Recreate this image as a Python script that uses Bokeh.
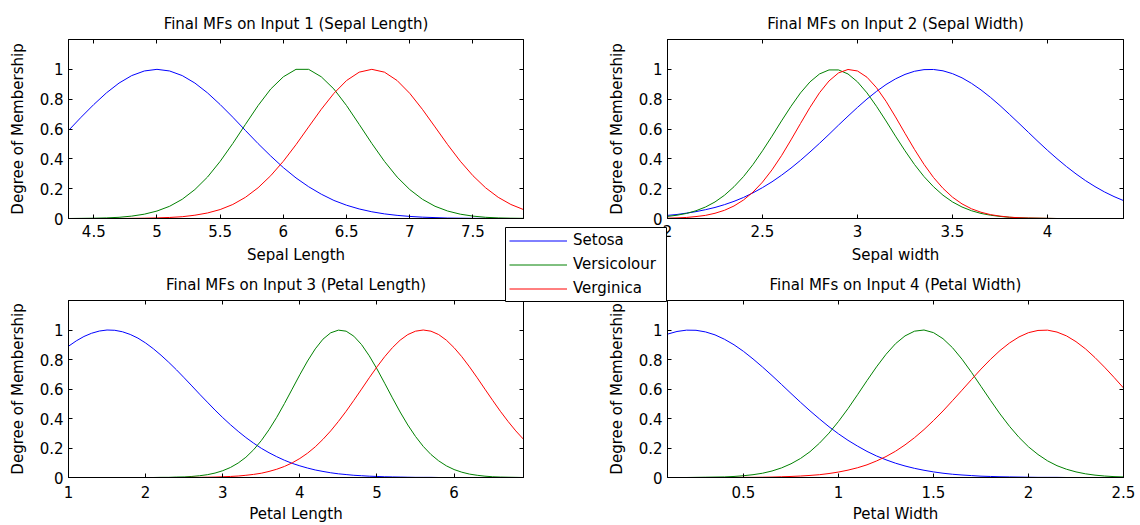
from bokeh.plotting import figure
from bokeh.models import (ColumnDataSource, Range1d, FixedTicker, NumeralTickFormatter,
                          LinearAxis, Legend, LegendItem, GridBox, CustomLabelingPolicy)
from bokeh.embed import file_html
from bokeh.resources import INLINE

# ---------------- data ----------------
CLASSES = ["Setosa", "Versicolour", "Verginica"]
Y_TICKS = [0, 0.2, 0.4, 0.6, 0.8, 1]

# Input 1: Sepal Length
SL_X = [4.3, 4.4, 4.5, 4.6, 4.7, 4.8, 4.9, 5.0, 5.1, 5.2, 5.3, 5.4, 5.5, 5.6, 5.7, 5.8, 5.9,
        6.0, 6.1, 6.2, 6.3, 6.4, 6.5, 6.6, 6.7, 6.8, 6.9, 7.0, 7.1, 7.2, 7.3, 7.4, 7.5, 7.6,
        7.7, 7.8, 7.9]
SL_SETOSA = [0.590, 0.679, 0.764, 0.842, 0.908, 0.958, 0.989, 1.000, 0.989, 0.958, 0.908,
             0.842, 0.764, 0.679, 0.590, 0.502, 0.419, 0.341, 0.272, 0.213, 0.163, 0.121,
             0.089, 0.064, 0.045, 0.031, 0.021, 0.014, 0.009, 0.006, 0.003, 0.002, 0.001,
             0.001, 0.000, 0.000, 0.000]
SL_VERSI = [0.000, 0.001, 0.002, 0.004, 0.008, 0.016, 0.029, 0.050, 0.082, 0.129, 0.194,
            0.278, 0.383, 0.503, 0.631, 0.757, 0.868, 0.950, 1.000, 1.000, 0.950, 0.868,
            0.757, 0.631, 0.503, 0.383, 0.278, 0.194, 0.129, 0.082, 0.050, 0.029, 0.016,
            0.008, 0.004, 0.002, 0.001]
SL_VIRGI = [0.000, 0.000, 0.000, 0.000, 0.000, 0.001, 0.002, 0.004, 0.007, 0.012, 0.022,
            0.037, 0.060, 0.094, 0.142, 0.206, 0.287, 0.384, 0.495, 0.614, 0.732, 0.839,
            0.925, 0.981, 1.000, 0.981, 0.925, 0.839, 0.732, 0.614, 0.495, 0.384, 0.287,
            0.206, 0.142, 0.094, 0.060]
SL_TICKS = [4.5, 5, 5.5, 6, 6.5, 7, 7.5]

# Input 2: Sepal Width
SW_X = [2.0, 2.05, 2.1, 2.15, 2.2, 2.25, 2.3, 2.35, 2.4, 2.45, 2.5, 2.55, 2.6, 2.65, 2.7,
        2.75, 2.8, 2.85, 2.9, 2.95, 3.0, 3.05, 3.1, 3.15, 3.2, 3.25, 3.3, 3.35, 3.4, 3.45,
        3.5, 3.55, 3.6, 3.65, 3.7, 3.75, 3.8, 3.85, 3.9, 3.95, 4.0, 4.05, 4.1, 4.15, 4.2,
        4.25, 4.3, 4.35, 4.4]
SW_SETOSA = [0.021, 0.027, 0.036, 0.046, 0.059, 0.074, 0.093, 0.115, 0.141, 0.172,
             0.207, 0.246, 0.290, 0.338, 0.390, 0.446, 0.504, 0.564, 0.626, 0.686,
             0.745, 0.801, 0.852, 0.898, 0.936, 0.966, 0.987, 0.998, 0.999, 0.990,
             0.971, 0.943, 0.906, 0.862, 0.812, 0.757, 0.698, 0.638, 0.577, 0.516,
             0.457, 0.401, 0.348, 0.299, 0.254, 0.214, 0.178, 0.147, 0.120]
SW_VERSI = [0.014, 0.022, 0.034, 0.052, 0.077, 0.111, 0.156, 0.213, 0.281, 0.362,
            0.454, 0.552, 0.654, 0.752, 0.842, 0.916, 0.969, 0.996, 0.996, 0.969,
            0.916, 0.842, 0.752, 0.654, 0.552, 0.454, 0.362, 0.281, 0.213, 0.156,
            0.111, 0.077, 0.052, 0.034, 0.022, 0.014, 0.008, 0.005, 0.003, 0.002,
            0.001, 0.000, 0.000, 0.000, 0.000, 0.000, 0.000, 0.000, 0.000]
SW_VIRGI = [0.002, 0.004, 0.007, 0.013, 0.021, 0.035, 0.055, 0.084, 0.124, 0.177,
            0.244, 0.326, 0.421, 0.527, 0.637, 0.745, 0.843, 0.922, 0.976, 0.999,
            0.989, 0.947, 0.877, 0.786, 0.681, 0.571, 0.463, 0.363, 0.275, 0.202,
            0.143, 0.098, 0.065, 0.042, 0.026, 0.016, 0.009, 0.005, 0.003, 0.002,
            0.001, 0.000, 0.000, 0.000, 0.000, 0.000, 0.000, 0.000, 0.000]
SW_TICKS = [2, 2.5, 3, 3.5, 4]

# Input 3: Petal Length
PL_X = [1.0, 1.1, 1.2, 1.3, 1.4, 1.5, 1.6, 1.7, 1.8, 1.9, 2.0, 2.1, 2.2, 2.3, 2.4, 2.5, 2.6,
        2.7, 2.8, 2.9, 3.0, 3.1, 3.2, 3.3, 3.4, 3.5, 3.6, 3.7, 3.8, 3.9, 4.0, 4.1, 4.2, 4.3,
        4.4, 4.5, 4.6, 4.7, 4.8, 4.9, 5.0, 5.1, 5.2, 5.3, 5.4, 5.5, 5.6, 5.7, 5.8, 5.9, 6.0,
        6.1, 6.2, 6.3, 6.4, 6.5, 6.6, 6.7, 6.8, 6.9]
PL_SETOSA = [0.890, 0.926, 0.956, 0.978, 0.993, 1.000, 0.998, 0.988, 0.970, 0.945,
             0.912, 0.873, 0.829, 0.781, 0.730, 0.676, 0.621, 0.565, 0.511, 0.457,
             0.406, 0.358, 0.313, 0.271, 0.233, 0.198, 0.168, 0.141, 0.117, 0.096,
             0.079, 0.064, 0.051, 0.041, 0.032, 0.025, 0.020, 0.015, 0.012, 0.009,
             0.007, 0.005, 0.004, 0.003, 0.002, 0.001, 0.001, 0.001, 0.000, 0.000,
             0.000, 0.000, 0.000, 0.000, 0.000, 0.000, 0.000, 0.000, 0.000, 0.000]
PL_VERSI = [0.000, 0.000, 0.000, 0.000, 0.000, 0.000, 0.000, 0.000, 0.000, 0.000,
            0.000, 0.000, 0.001, 0.001, 0.003, 0.004, 0.007, 0.012, 0.019, 0.030,
            0.046, 0.068, 0.098, 0.137, 0.188, 0.250, 0.324, 0.408, 0.501, 0.599,
            0.697, 0.790, 0.872, 0.938, 0.981, 0.999, 0.992, 0.958, 0.901, 0.825,
            0.736, 0.639, 0.540, 0.444, 0.356, 0.278, 0.211, 0.156, 0.113, 0.079,
            0.054, 0.036, 0.023, 0.015, 0.009, 0.005, 0.003, 0.002, 0.001, 0.000]
PL_VIRGI = [0.000, 0.000, 0.000, 0.000, 0.000, 0.000, 0.000, 0.000, 0.000, 0.000,
            0.000, 0.000, 0.000, 0.000, 0.000, 0.000, 0.001, 0.001, 0.002, 0.003,
            0.005, 0.007, 0.010, 0.015, 0.021, 0.029, 0.041, 0.056, 0.075, 0.099,
            0.129, 0.165, 0.208, 0.259, 0.316, 0.380, 0.449, 0.523, 0.599, 0.676,
            0.750, 0.819, 0.880, 0.931, 0.969, 0.992, 1.000, 0.992, 0.969, 0.931,
            0.880, 0.819, 0.750, 0.676, 0.599, 0.523, 0.449, 0.380, 0.316, 0.259]
PL_TICKS = [1, 2, 3, 4, 5, 6]

# Input 4: Petal Width
PW_X = [0.1, 0.15, 0.2, 0.25, 0.3, 0.35, 0.4, 0.45, 0.5, 0.55, 0.6, 0.65, 0.7, 0.75, 0.8,
        0.85, 0.9, 0.95, 1.0, 1.05, 1.1, 1.15, 1.2, 1.25, 1.3, 1.35, 1.4, 1.45, 1.5, 1.55,
        1.6, 1.65, 1.7, 1.75, 1.8, 1.85, 1.9, 1.95, 2.0, 2.05, 2.1, 2.15, 2.2, 2.25, 2.3,
        2.35, 2.4, 2.45, 2.5]
PW_SETOSA = [0.972, 0.990, 0.999, 0.998, 0.987, 0.967, 0.937, 0.900, 0.855, 0.804,
             0.749, 0.691, 0.631, 0.570, 0.510, 0.452, 0.397, 0.344, 0.296, 0.252,
             0.213, 0.177, 0.146, 0.120, 0.097, 0.078, 0.062, 0.049, 0.038, 0.029,
             0.022, 0.017, 0.013, 0.009, 0.007, 0.005, 0.004, 0.003, 0.002, 0.001,
             0.001, 0.001, 0.000, 0.000, 0.000, 0.000, 0.000, 0.000, 0.000]
PW_VERSI = [0.000, 0.000, 0.000, 0.001, 0.002, 0.003, 0.004, 0.007, 0.012, 0.019,
            0.029, 0.044, 0.065, 0.093, 0.129, 0.175, 0.233, 0.301, 0.380, 0.467,
            0.561, 0.657, 0.750, 0.835, 0.907, 0.960, 0.992, 1.000, 0.982, 0.941,
            0.880, 0.802, 0.713, 0.618, 0.523, 0.431, 0.347, 0.272, 0.208, 0.156,
            0.113, 0.080, 0.056, 0.038, 0.025, 0.016, 0.010, 0.006, 0.004]
PW_VIRGI = [0.000, 0.000, 0.000, 0.000, 0.000, 0.000, 0.000, 0.000, 0.001, 0.001,
            0.002, 0.003, 0.005, 0.007, 0.010, 0.014, 0.019, 0.027, 0.037, 0.050,
            0.066, 0.086, 0.112, 0.142, 0.178, 0.221, 0.270, 0.325, 0.386, 0.451,
            0.521, 0.592, 0.664, 0.735, 0.801, 0.861, 0.912, 0.953, 0.982, 0.997,
            0.999, 0.986, 0.960, 0.921, 0.872, 0.813, 0.748, 0.679, 0.607]
PW_TICKS = [0.5, 1, 1.5, 2, 2.5]

PANELS = [
    ("Final MFs on Input 1 (Sepal Length)", "Sepal Length", SL_X, [SL_SETOSA, SL_VERSI, SL_VIRGI], SL_TICKS),
    ("Final MFs on Input 2 (Sepal Width)", "Sepal width", SW_X, [SW_SETOSA, SW_VERSI, SW_VIRGI], SW_TICKS),
    ("Final MFs on Input 3 (Petal Length)", "Petal Length", PL_X, [PL_SETOSA, PL_VERSI, PL_VIRGI], PL_TICKS),
    ("Final MFs on Input 4 (Petal Width)", "Petal Width", PW_X, [PW_SETOSA, PW_VERSI, PW_VIRGI], PW_TICKS),
]
Y_LABEL = "Degree of Membership"

# ---------------- styling ----------------
FONT = "DejaVu Sans"
FS = "15px"
COLORS = ["#0000ff", "#008000", "#ff0000"]
FIELDS = ["setosa", "versi", "virgi"]


def base_axis_style(ax, ticks):
    ax.ticker = FixedTicker(ticks=ticks)
    ax.formatter = NumeralTickFormatter(format="0.[0]")
    ax.major_tick_in = 4
    ax.major_tick_out = 0
    ax.minor_tick_line_color = None
    ax.axis_line_color = "black"
    ax.axis_line_width = 1
    ax.major_tick_line_color = "black"
    ax.major_label_text_font = FONT
    ax.major_label_text_font_size = FS
    ax.major_label_text_color = "black"
    ax.axis_label_text_font = FONT
    ax.axis_label_text_font_size = FS
    ax.axis_label_text_font_style = "normal"
    ax.axis_label_text_color = "black"


def mirror_axis(ticks):
    # tick marks only (inside the box, like the reference's top/right edges)
    ax = LinearAxis()
    base_axis_style(ax, ticks)
    ax.major_label_text_font_size = "0px"
    ax.major_label_standoff = 0
    ax.major_label_policy = CustomLabelingPolicy(
        code="for (const i of indices) { indices.unset(i) }\nreturn indices")
    return ax


def make_panel(spec, width, height, mb, title_standoff, label_standoff, axis_label_standoff):
    title, xlabel, xs, ys, xticks = spec
    data = {"x": xs}
    for f, y in zip(FIELDS, ys):
        data[f] = y
    src = ColumnDataSource(data)
    p = figure(width=width, height=height,
               x_range=Range1d(xs[0], xs[-1]), y_range=Range1d(0, 1.2),
               toolbar_location=None, output_backend="svg",
               min_border_left=mb[0], min_border_right=mb[1],
               min_border_top=mb[2], min_border_bottom=mb[3],
               background_fill_color="white", border_fill_color="white")
    p.xgrid.visible = False
    p.ygrid.visible = False
    p.outline_line_color = "black"
    p.outline_line_width = 1

    p.title.text = title
    p.title.align = "center"
    p.title.text_font = FONT
    p.title.text_font_size = FS
    p.title.text_font_style = "normal"
    p.title.text_color = "black"
    p.title.standoff = title_standoff

    xa = p.xaxis[0]
    base_axis_style(xa, xticks)
    xa.axis_label = xlabel
    xa.major_label_standoff = label_standoff
    xa.axis_label_standoff = axis_label_standoff

    ya = p.yaxis[0]
    base_axis_style(ya, Y_TICKS)
    ya.axis_label = Y_LABEL
    ya.major_label_standoff = 5
    ya.axis_label_standoff = 10

    p.add_layout(mirror_axis(xticks), "above")
    p.add_layout(mirror_axis(Y_TICKS), "right")

    for f, c in zip(FIELDS, COLORS):
        p.line("x", f, source=src, line_color=c, line_width=1)
    return p, src


p1, src1 = make_panel(PANELS[0], 599, 266, (68, 76, 39, 46), 13, 6, 6)
p2, _ = make_panel(PANELS[1], 541, 266, (68, 17, 39, 46), 13, 6, 6)
p3, _ = make_panel(PANELS[2], 599, 259, (68, 76, 32, 46), 14, 8, 4)
p4, _ = make_panel(PANELS[3], 541, 259, (68, 17, 32, 46), 14, 8, 4)

# legend box, overlapping the panels as in the reference
leg = figure(width=162, height=75, x_axis_type=None, y_axis_type=None,
             x_range=Range1d(0, 1), y_range=Range1d(5, 6),
             toolbar_location=None, output_backend="svg", min_border=0,
             background_fill_color="white", border_fill_color="white")
leg.outline_line_color = "black"
leg.outline_line_width = 1
items = []
for name, f, c in zip(CLASSES, FIELDS, COLORS):
    # same series as panel 1; the legend plot's ranges keep the curve itself out of view
    r = leg.line("x", f, source=src1, line_color=c, line_width=1)
    items.append(LegendItem(label=name, renderers=[r]))
legend = Legend(items=items, location="top_left", margin=0, padding=4, spacing=6,
                glyph_width=58, glyph_height=17, label_height=17, label_standoff=6,
                label_text_font=FONT, label_text_font_size=FS, label_text_color="black",
                border_line_alpha=0, background_fill_alpha=0)
leg.add_layout(legend)

layout = GridBox(children=[(p1, 0, 0, 2, 2), (p2, 0, 2, 2, 2),
                           (p3, 2, 0, 2, 2), (p4, 2, 2, 2, 2),
                           (leg, 1, 1, 2, 2)],
                 rows=["227px", "39px", "36px", "223px"],
                 cols=["505px", "94px", "68px", "473px"],
                 spacing=0)

open("out.html", "w").write(file_html(layout, INLINE, title="Final MFs"))
